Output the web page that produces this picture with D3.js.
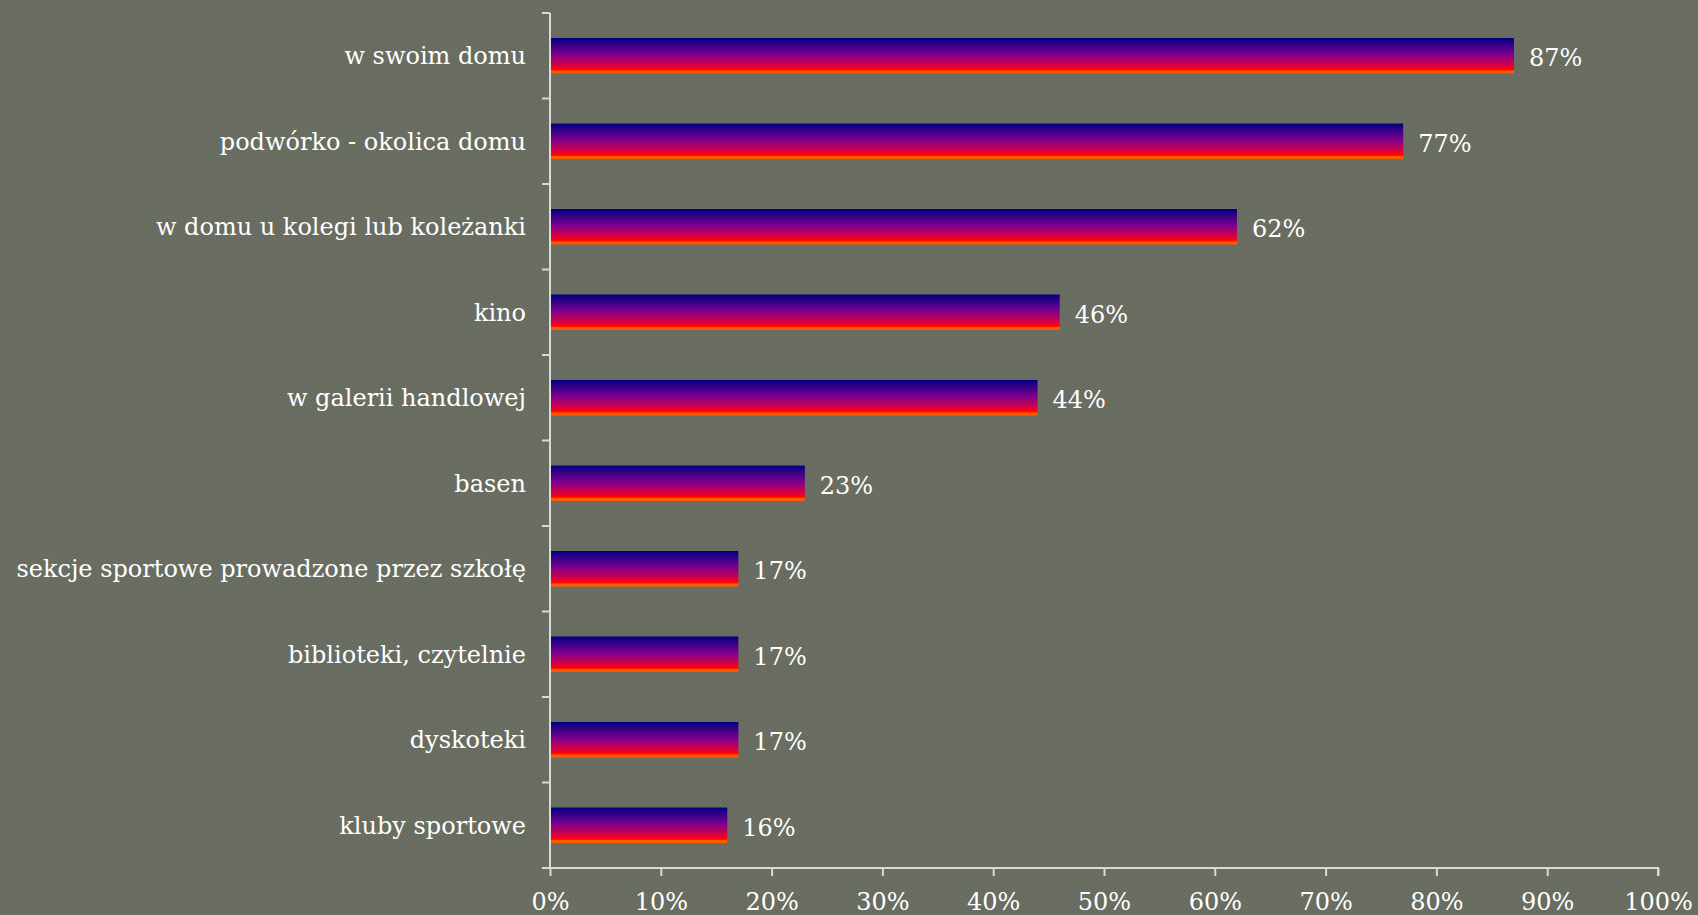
<!DOCTYPE html>
<html><head><meta charset="utf-8">
<script src="https://cdn.jsdelivr.net/npm/d3@7"></script>
<style>html,body{margin:0;padding:0;background:#676a5e;overflow:hidden}</style>
</head><body>
<svg id="c" width="1698" height="915"></svg>
<script>
const categories = ["w swoim domu","podwórko - okolica domu","w domu u kolegi lub koleżanki","kino","w galerii handlowej","basen","sekcje sportowe prowadzone przez szkołę","biblioteki, czytelnie","dyskoteki","kluby sportowe"];
const values = [87,77,62,46,44,23,17,17,17,16];
const tickValues = [0,10,20,30,40,50,60,70,80,90,100];

const svg = d3.select("#c");
const W = 1698, H = 915;
const m = {left:550, right:40, top:13, bottom:47};
const defs = svg.append("defs");
const pat = defs.append("pattern").attr("id","bgp").attr("width",4).attr("height",4).attr("patternUnits","userSpaceOnUse");
pat.append("rect").attr("width",4).attr("height",4).attr("fill","#676a5e");
pat.append("rect").attr("width",2).attr("height",2).attr("fill","#6c6f63");
pat.append("rect").attr("x",2).attr("y",2).attr("width",2).attr("height",2).attr("fill","#6c6f63");
svg.append("rect").attr("width",W).attr("height",H).attr("fill","url(#bgp)");

const g = defs.append("linearGradient").attr("id","barg").attr("x1",0).attr("y1",0).attr("x2",0).attr("y2",1);
[[0,"#000080"],[0.45,"#7a0090"],[0.75,"#d0004a"],[0.86,"#ff0010"],[0.9,"#ff1000"],[0.93,"#ff5a00"],[1,"#ff5a00"]].forEach(([o,c])=>g.append("stop").attr("offset",o).attr("stop-color",c));

const x = d3.scaleLinear().domain([0,100]).range([m.left, 1658]);
const y = d3.scaleBand().domain(categories).range([m.top, H-m.bottom]).paddingInner(0.585).paddingOuter(0.2925);
const yOuter = d3.scaleBand().domain(categories).range([m.top, H-m.bottom]);

const axisColor = "#d9d9d9";
const font = "'DejaVu Serif', serif";
const fs = "24px";

// bars
svg.selectAll(".bar").data(values).enter().append("rect")
  .attr("x", x(0)+1).attr("y",(d,i)=>y(categories[i]))
  .attr("width", d=>x(d)-x(0)-1).attr("height", y.bandwidth())
  .attr("fill","url(#barg)");

// value labels
svg.selectAll(".vl").data(values).enter().append("text")
  .attr("x", d=>x(d)+15).attr("y",(d,i)=>y(categories[i])+y.bandwidth()/2+2)
  .attr("dy","0.36em").attr("fill","#ffffff").style("font-family",font).style("font-size",fs)
  .text(d=>d+"%");

// left axis
const yl = svg.append("g");
yl.append("line").attr("x1",m.left).attr("x2",m.left).attr("y1",m.top).attr("y2",H-m.bottom).attr("stroke",axisColor).attr("stroke-width",2);
const bounds = categories.map(c=>yOuter(c)).concat([H-m.bottom]);
yl.selectAll(".tk").data(bounds).enter().append("line")
  .attr("x1",m.left-8).attr("x2",m.left).attr("y1",d=>d).attr("y2",d=>d).attr("stroke",axisColor).attr("stroke-width",2);
yl.selectAll(".lb").data(categories).enter().append("text")
  .attr("x",m.left-24).attr("y",d=>yOuter(d)+yOuter.bandwidth()/2)
  .attr("dy","0.36em").attr("text-anchor","end").attr("fill","#ffffff")
  .style("font-family",font).style("font-size",fs).text(d=>d);

// bottom axis
const xa = svg.append("g").attr("transform",`translate(0,${H-m.bottom})`)
  .call(d3.axisBottom(x).tickValues(tickValues).tickFormat(d=>d+"%").tickSize(8).tickPadding(17));
xa.select(".domain").attr("stroke",axisColor).attr("stroke-width",2).attr("d",`M${m.left-8},0H${x(100)}V8`);
xa.selectAll(".tick line").attr("stroke",axisColor).attr("stroke-width",2);
xa.selectAll(".tick text").attr("fill","#ffffff").style("font-family",font).style("font-size",fs);
</script>
</body></html>
